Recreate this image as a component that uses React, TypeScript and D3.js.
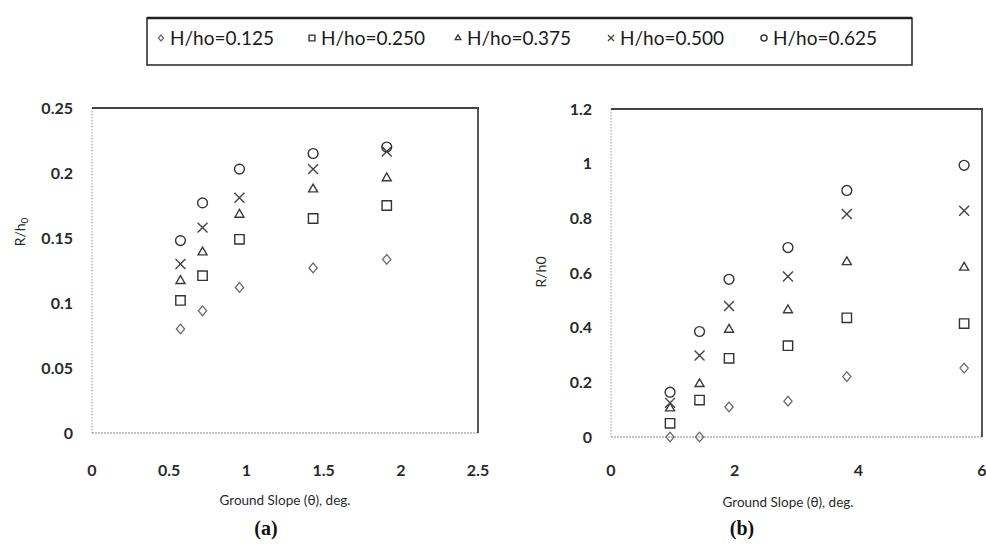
import React from "react";
import * as d3 from "d3";

// ---------- data ----------
const seriesNames = ["H/ho=0.125", "H/ho=0.250", "H/ho=0.375", "H/ho=0.500", "H/ho=0.625"];
const seriesShapes = ["diamond", "square", "triangle", "times", "circle"];

// Panel (a)
const slopeA = [0.573, 0.716, 0.955, 1.432, 1.909];
const a125 = [0.080, 0.094, 0.112, 0.127, 0.1335];
const a250 = [0.102, 0.121, 0.149, 0.165, 0.175];
const a375 = [0.117, 0.139, 0.168, 0.1875, 0.196];
const a500 = [0.130, 0.158, 0.181, 0.203, 0.2165];
const a625 = [0.148, 0.177, 0.203, 0.215, 0.220];
const xTicksA = [0, 0.5, 1, 1.5, 2, 2.5];
const yTicksA = [0, 0.05, 0.1, 0.15, 0.2, 0.25];

// Panel (b)
const slopeB = [0.955, 1.432, 1.909, 2.862, 3.814, 5.711];
const b125 = [0.0, 0.0, 0.110, 0.131, 0.221, 0.252];
const b250 = [0.05, 0.135, 0.288, 0.334, 0.436, 0.415];
const b375 = [0.105, 0.194, 0.393, 0.464, 0.640, 0.620];
const b500 = [0.125, 0.298, 0.479, 0.587, 0.816, 0.828];
const b625 = [0.164, 0.386, 0.577, 0.693, 0.902, 0.994];
const xTicksB = [0, 2, 4, 6];
const yTicksB = [0, 0.2, 0.4, 0.6, 0.8, 1, 1.2];

const FONT = "Lato, 'Open Sans', sans-serif";
const INK = "#2a2a2a";

const symbolFor: Record<string, any> = {
  diamond: d3.symbolDiamond2,
  square: d3.symbolSquare2,
  triangle: d3.symbolTriangle2,
  times: d3.symbolTimes,
  circle: d3.symbolCircle,
};
const sizeFor: Record<string, number> = {
  diamond: 60,
  square: 112,
  triangle: 58,
  times: 66,
  circle: 76,
};
const colorFor: Record<string, string> = {
  diamond: "#6a6a6a",
  square: "#333",
  triangle: "#3a3a3a",
  times: "#444",
  circle: "#333",
};

function Marker({ shape, x, y, scale = 1 }: { shape: string; x: number; y: number; scale?: number }) {
  const p = d3.symbol(symbolFor[shape], sizeFor[shape] * scale * scale)()!;
  const sx = shape === "diamond" ? 0.85 : 1;
  return (
    <path
      d={p}
      transform={`translate(${x},${y}) scale(${sx},1)`}
      fill="none"
      stroke={colorFor[shape]}
      strokeWidth={1.4}
    />
  );
}

type PanelProps = {
  left: number; right: number; top: number; bottom: number;
  xDomain: [number, number]; yDomain: [number, number];
  xs: number[]; series: number[][];
  xTicks: number[]; yTicks: number[];
  yLabelX: number; yTitle: React.ReactNode; yTitleX: number; yTitleY: number;
  xTitleY: number; xTitleX: number; tag: string; tagX: number;
  fmtX: (v: number) => string; fmtY: (v: number) => string;
};

function Panel(p: PanelProps) {
  const x = d3.scaleLinear().domain(p.xDomain).range([p.left, p.right]);
  const y = d3.scaleLinear().domain(p.yDomain).range([p.bottom, p.top]);
  return (
    <g>
      {/* frame */}
      <line x1={p.left} x2={p.left} y1={p.top} y2={p.bottom} stroke="#9a9a9a" strokeWidth={1} strokeDasharray="1.5,1.5" />
      <line x1={p.left} x2={p.right} y1={p.bottom} y2={p.bottom} stroke="#8a8a8a" strokeWidth={1.2} strokeDasharray="2,1" />
      <line x1={p.left} x2={p.right + 1} y1={p.top} y2={p.top} stroke="#444" strokeWidth={1.8} />
      <line x1={p.right} x2={p.right} y1={p.top} y2={p.bottom} stroke="#444" strokeWidth={1.8} />
      {/* y ticks */}
      {p.yTicks.map((t) => (
        <text key={"y" + t} x={p.yLabelX} y={y(t)} dy="0.35em" textAnchor="end"
          fontFamily={FONT} fontWeight={700} fontSize={16} fill={INK}>{p.fmtY(t)}</text>
      ))}
      {/* x ticks */}
      {p.xTicks.map((t) => (
        <text key={"x" + t} x={x(t)} y={470} dy="0.35em" textAnchor="middle"
          fontFamily={FONT} fontWeight={700} fontSize={16} fill={INK}>{p.fmtX(t)}</text>
      ))}
      {/* titles */}
      <text transform={`translate(${p.yTitleX},${p.yTitleY}) rotate(-90)`} textAnchor="middle" dy="0.35em"
        fontFamily={FONT} fontSize={14} fill={INK}>{p.yTitle}</text>
      <text x={p.xTitleX} y={p.xTitleY} dy="0.35em" textAnchor="middle"
        fontFamily={FONT} fontSize={13.5} fill={INK}>Ground Slope (θ), deg.</text>
      <text x={p.tagX} y={528} dy="0.35em" textAnchor="middle"
        fontFamily="'Liberation Serif', 'DejaVu Serif', serif" fontWeight={700} fontSize={20} fill="#111">{p.tag}</text>
      {/* points */}
      {p.series.map((vals, si) =>
        vals.map((v, i) => (
          <Marker key={si + "-" + i} shape={seriesShapes[si]} x={x(p.xs[i])} y={y(v)} />
        ))
      )}
    </g>
  );
}

export default function App() {
  const legendX = [161, 312, 458, 611, 764];
  return (
    <svg width={986} height={549} style={{ position: "absolute", left: 0, top: 0, background: "#fff" }}>
      <rect x={0} y={0} width={986} height={549} fill="#fff" />
      {/* legend */}
      <rect x={147} y={18} width={765} height={47} fill="#fff" stroke="#333" strokeWidth={1.6} />
      <line x1={147} x2={912} y1={18} y2={18} stroke="#222" strokeWidth={2.4} />
      {seriesNames.map((n, i) => (
        <g key={n}>
          <Marker shape={seriesShapes[i]} x={legendX[i]} y={38} scale={0.62} />
          <text x={legendX[i] + 9} y={38} dy="0.35em" fontFamily={FONT} fontSize={19} fill="#1a1a1a">{n}</text>
        </g>
      ))}
      <Panel
        left={92} right={478} top={108} bottom={433}
        xDomain={[0, 2.5]} yDomain={[0, 0.25]}
        xs={slopeA} series={[a125, a250, a375, a500, a625]}
        xTicks={xTicksA} yTicks={yTicksA}
        yLabelX={73}
        yTitle={<tspan>R/h<tspan fontSize={10} dy={3}>0</tspan></tspan>}
        yTitleX={20} yTitleY={232}
        xTitleX={285} xTitleY={500} tag="(a)" tagX={266}
        fmtX={(v) => String(v)} fmtY={(v) => String(v)}
      />
      <Panel
        left={611} right={982} top={109} bottom={437}
        xDomain={[0, 6]} yDomain={[0, 1.2]}
        xs={slopeB} series={[b125, b250, b375, b500, b625]}
        xTicks={xTicksB} yTicks={yTicksB}
        yLabelX={592}
        yTitle={<tspan>R/h0</tspan>}
        yTitleX={541} yTitleY={272}
        xTitleX={788} xTitleY={502} tag="(b)" tagX={742}
        fmtX={(v) => String(v)} fmtY={(v) => String(v)}
      />
    </svg>
  );
}
